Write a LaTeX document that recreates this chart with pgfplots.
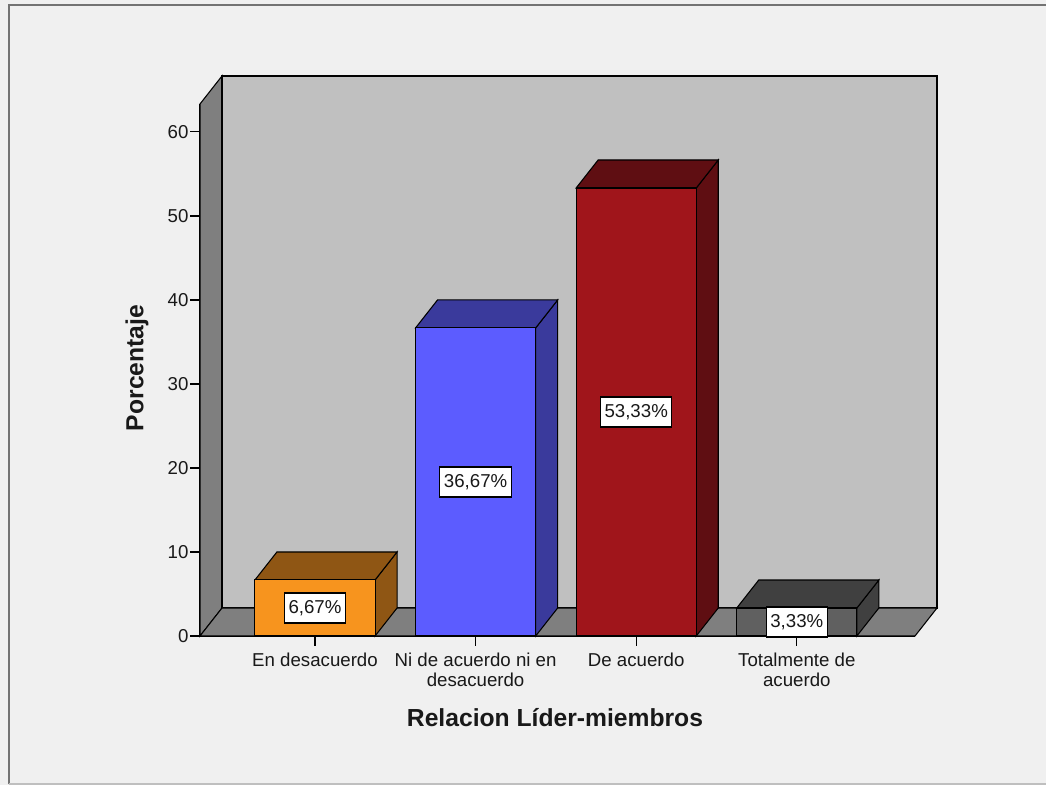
\documentclass[border=0pt]{standalone}
\usepackage{pgfplots}
\pgfplotsset{compat=1.18}
\usepackage{fontspec}
\setmainfont{Liberation Sans}
\definecolor{bgc}{HTML}{F0F0F0}
\definecolor{backw}{HTML}{C0C0C0}
\definecolor{sidew}{HTML}{7F7F7F}
\definecolor{orF}{HTML}{F7941E}
\definecolor{orD}{HTML}{8F5614}
\definecolor{blF}{HTML}{5C5CFF}
\definecolor{blD}{HTML}{3A3A9C}
\definecolor{rdF}{HTML}{A0151B}
\definecolor{rdD}{HTML}{5F0E12}
\definecolor{gyF}{HTML}{606060}
\definecolor{gyD}{HTML}{404040}
\begin{document}
\begin{tikzpicture}[x=0.75pt,y=0.75pt]
\useasboundingbox (0,0) rectangle (1046,785);
\fill[bgc] (0,0) rectangle (1046,785);
\draw[line width=1.5pt,color=black!55] (8.5,0.5) -- (8.5,779.5) -- (1046,779.5);
\draw[line width=1pt,color=black!25] (8.5,1) -- (1046,1);
\begin{axis}[
  at={(150pt,111.75pt)}, anchor=south west,
  scale only axis, width=536.25pt, height=399pt,
  xmin=-0.716, xmax=3.736, ymin=0, ymax=63.33,
  clip=false,
  axis x line*=bottom, axis y line*=left,
  axis line style={line width=0.8pt},
  tick align=outside,
  major tick length=7.5pt,
  tick style={black, line width=0.8pt},
  xtick={0,1,2,3},
  xticklabels={En desacuerdo,{Ni de acuerdo ni en\\desacuerdo},De acuerdo,{Totalmente de\\acuerdo}},
  ytick={0,10,20,30,40,50,60},
  /pgf/number format/assume math mode=true,
  ticklabel style={font=\fontsize{14}{15}\selectfont, text=black!90},
  x tick label style={align=center, inner sep=2pt, yshift=-3pt},
  y tick label style={inner xsep=1pt},
]
% walls
\fill[sidew, draw=black, line width=0.8pt] (axis cs:-0.716,0) -- (axis cs:-0.579,3.333) -- (axis cs:-0.579,66.663) -- (axis cs:-0.716,63.33) -- cycle;
\fill[backw, draw=black, line width=0.8pt] (axis cs:-0.579,3.333) rectangle (axis cs:3.873,66.663);
\fill[sidew, draw=black, line width=0.8pt] (axis cs:-0.716,0) -- (axis cs:3.736,0) -- (axis cs:3.873,3.333) -- (axis cs:-0.579,3.333) -- cycle;
% bar 1
\addplot[fill=orD, draw=black, line width=0.8pt] coordinates {(0.374,0) (0.511,3.333) (0.511,10.003) (0.374,6.67)} -- cycle;
\addplot[fill=orD, draw=black, line width=0.8pt] coordinates {(-0.374,6.67) (0.374,6.67) (0.511,10.003) (-0.237,10.003)} -- cycle;
\addplot[ybar, bar width=0.748, bar shift=0, fill=orF, draw=black, line width=0.8pt] coordinates {(0,6.67)};
% bar 2
\addplot[fill=blD, draw=black, line width=0.8pt] coordinates {(1.374,0) (1.511,3.333) (1.511,40.003) (1.374,36.67)} -- cycle;
\addplot[fill=blD, draw=black, line width=0.8pt] coordinates {(0.626,36.67) (1.374,36.67) (1.511,40.003) (0.763,40.003)} -- cycle;
\addplot[ybar, bar width=0.748, bar shift=0, fill=blF, draw=black, line width=0.8pt] coordinates {(1,36.67)};
% bar 3
\addplot[fill=rdD, draw=black, line width=0.8pt] coordinates {(2.374,0) (2.511,3.333) (2.511,56.663) (2.374,53.33)} -- cycle;
\addplot[fill=rdD, draw=black, line width=0.8pt] coordinates {(1.626,53.33) (2.374,53.33) (2.511,56.663) (1.763,56.663)} -- cycle;
\addplot[ybar, bar width=0.748, bar shift=0, fill=rdF, draw=black, line width=0.8pt] coordinates {(2,53.33)};
% bar 4
\addplot[fill=gyD, draw=black, line width=0.8pt] coordinates {(3.374,0) (3.511,3.333) (3.511,6.663) (3.374,3.33)} -- cycle;
\addplot[fill=gyD, draw=black, line width=0.8pt] coordinates {(2.626,3.33) (3.374,3.33) (3.511,6.663) (2.763,6.663)} -- cycle;
\addplot[ybar, bar width=0.748, bar shift=0, fill=gyF, draw=black, line width=0.8pt] coordinates {(3,3.33)};
% labels
\addplot[draw=none, mark=none, point meta=explicit symbolic, nodes near coords,
  every node near coord/.style={anchor=center, fill=white, draw=black, line width=0.8pt,
    font=\fontsize{14}{15}\selectfont, inner xsep=3pt, inner ysep=0pt, minimum height=22.5pt, text=black!90}]
  coordinates {(0,3.335) [6,67\%] (1,18.335) [36,67\%] (2,26.665) [53,33\%] (3,1.665) [3,33\%]};
\end{axis}
\node[font=\bfseries\fontsize{18.5}{20}\selectfont, text=black!90] at (555,67) {Relacion Líder-miembros};
\node[font=\bfseries\fontsize{18.5}{20}\selectfont, text=black!90, rotate=90] at (137,417) {Porcentaje};
\end{tikzpicture}
\end{document}
